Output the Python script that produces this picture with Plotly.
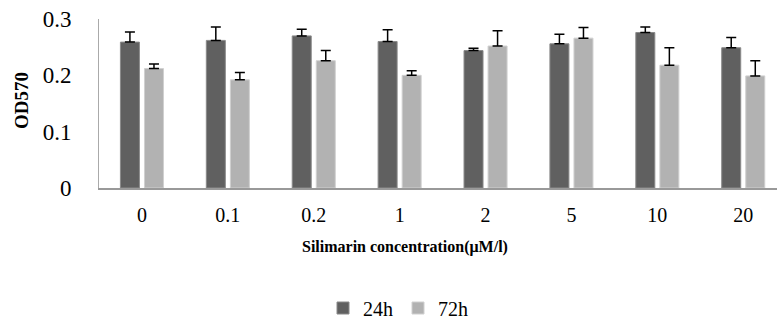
import plotly.graph_objects as go

categories = ["0", "0.1", "0.2", "1", "2", "5", "10", "20"]
od_24h = [0.259, 0.262, 0.270, 0.260, 0.244, 0.256, 0.276, 0.249]
err_24h = [0.018, 0.024, 0.012, 0.021, 0.004, 0.017, 0.010, 0.018]
od_72h = [0.212, 0.192, 0.226, 0.200, 0.252, 0.266, 0.218, 0.199]
err_72h = [0.008, 0.013, 0.018, 0.008, 0.027, 0.019, 0.031, 0.027]
y_ticks = [0, 0.1, 0.2, 0.3]
y_tick_labels = ["0", "0.1", "0.2", "0.3"]

FONT = "Liberation Serif"

fig = go.Figure()
fig.add_trace(go.Bar(
    name="24h", x=categories, y=od_24h,
    marker=dict(color="#606060", line=dict(color="#8a8a8a", width=1)),
    error_y=dict(type="data", array=err_24h, arrayminus=[0] * len(err_24h),
                 symmetric=False, color="black", thickness=1.5, width=5),
))
fig.add_trace(go.Bar(
    name="72h", x=categories, y=od_72h,
    marker=dict(color="#b2b2b2", line=dict(color="#d0d0d0", width=1)),
    error_y=dict(type="data", array=err_72h, arrayminus=[0] * len(err_72h),
                 symmetric=False, color="black", thickness=1.5, width=5),
))

fig.update_layout(
    width=777, height=322,
    margin=dict(l=99, r=0, t=19, b=134, autoexpand=False),
    paper_bgcolor="white", plot_bgcolor="white",
    barmode="group", bargap=0.44, bargroupgap=0.21,
    font=dict(family=FONT, color="black"),
    showlegend=True,
    legend=dict(orientation="h", xref="container", yref="container",
                x=398 / 777, xanchor="center", y=(322 - 308) / 322, yanchor="middle",
                font=dict(family=FONT, size=20), itemwidth=30, traceorder="normal",
                bgcolor="rgba(0,0,0,0)"),
    xaxis=dict(
        type="category", range=[-0.5, 7.393], automargin=False,
        showline=True, linecolor="#999999", linewidth=1.5,
        showgrid=False, ticks="", ticklabelstandoff=8,
        tickfont=dict(family=FONT, size=20),
    ),
    yaxis=dict(
        range=[0, 0.3], tickvals=y_ticks, ticktext=y_tick_labels, automargin=False,
        showline=True, linecolor="#aaaaaa", linewidth=1,
        showgrid=False, zeroline=False, ticks="", ticklabelstandoff=22,
        tickfont=dict(family=FONT, size=23),
    ),
    annotations=[
        dict(text="<b>Silimarin concentration(μM/l)</b>", xref="paper", yref="paper",
             x=(405 - 99) / 678, y=(188 - 247) / 169, xanchor="center", yanchor="middle",
             showarrow=False, font=dict(family=FONT, size=16)),
        dict(text="<b>OD570</b>", xref="paper", yref="paper",
             x=(21 - 99) / 678, y=(188 - 101) / 169, xanchor="center", yanchor="middle",
             textangle=-90, showarrow=False, font=dict(family=FONT, size=19)),
    ],
)

fig.write_html("out.html", config={"displayModeBar": False},
               post_script="document.body.style.margin='0';")
